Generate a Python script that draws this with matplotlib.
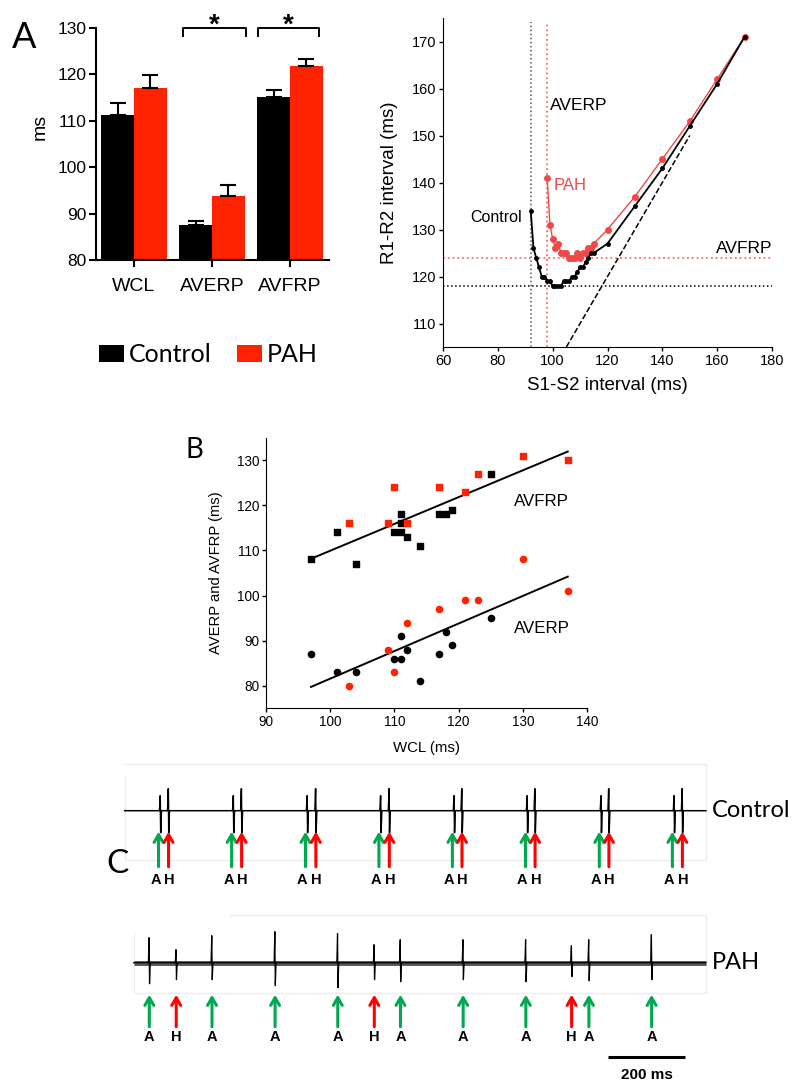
import numpy as np
import matplotlib.pyplot as plt
from matplotlib.patches import Patch

plt.rcParams['font.family'] = ['Liberation Sans', 'DejaVu Sans']

RED = '#ff2200'
RED_LIGHT = '#f04848'
GREEN = '#00a84f'

# --- panel A: bar chart ---
groups = ['WCL', 'AVERP', 'AVFRP']
ctrl_mean = [111.3, 87.5, 115.2]
ctrl_sem = [2.5, 1.0, 1.4]
pah_mean = [117.1, 93.9, 121.9]
pah_sem = [2.8, 2.3, 1.5]

# --- panel A: restitution curves ---
ctrl_s1s2 = [92, 93, 94, 95, 96, 97, 98, 99, 100, 101, 102, 103, 104, 105, 106,
             107, 108, 109, 110, 111, 112, 113, 114, 115, 120, 130, 140, 150, 160, 170]
ctrl_r1r2 = [134, 126, 124, 122, 120, 120, 119, 119, 118, 118, 118, 118, 119, 119, 119,
             120, 120, 121, 122, 122, 123, 124, 125, 125, 127, 135, 143, 152, 161, 171]
pah_s1s2 = [98, 99, 100, 101, 102, 103, 104, 105, 106, 107, 108, 109, 110, 111, 112,
            113, 114, 115, 120, 130, 140, 150, 160, 170]
pah_r1r2 = [141, 131, 128, 126, 127, 125, 125, 125, 124, 124, 124, 125, 124, 125, 125,
            126, 126, 127, 130, 137, 145, 153, 162, 171]
averp_ctrl_ex, averp_pah_ex = 92, 98
avfrp_ctrl_ex, avfrp_pah_ex = 118, 124
identity_range = [105, 150]

# --- panel B: scatter ---
wcl_ctrl_frp = [97, 101, 104, 110, 111, 111, 111, 112, 114, 117, 118, 119, 125]
avfrp_ctrl = [108, 114, 107, 114, 114, 118, 116, 113, 111, 118, 118, 119, 127]
wcl_ctrl_erp = [97, 101, 104, 110, 111, 111, 112, 114, 117, 118, 119, 125]
averp_ctrl = [87, 83, 83, 86, 86, 91, 88, 81, 87, 92, 89, 95]
wcl_pah = [103, 109, 110, 112, 117, 121, 123, 130, 137]
avfrp_pah = [116, 116, 124, 116, 124, 123, 127, 131, 130]
averp_pah = [80, 88, 83, 94, 97, 99, 99, 108, 101]
fit_range = [97, 137]

# --- panel C: electrogram spikes (ms, amplitude in arbitrary units) ---
ctrl_a_ms = [93, 283, 475, 666, 857, 1047, 1239, 1429]
ctrl_h_ms = [114, 304, 497, 688, 877, 1067, 1259, 1450]
ctrl_a_amp = (15, 22)
ctrl_h_amp = (22, 22)
ctrl_span = (0, 1511)
pah_a_ms = [64, 227, 391, 554, 717, 880, 1043, 1207, 1370]
pah_a_up = [25, 27, 31, 29, 23, 23, 23, 23, 28]
pah_a_down = [21, 17, 23, 25, 19, 17, 19, 18, 17]
pah_h_ms = [134, 649, 1162]
pah_h_up = [13, 18, 17]
pah_h_down = [17, 17, 14]
pah_span = (23, 1511)
scalebar_ms = 200


def fig_box(left, top, right, bottom):
    return [left / 800, 1 - bottom / 1088, (right - left) / 800, (bottom - top) / 1088]


fig = plt.figure(figsize=(8, 10.88), dpi=100)

# ================= A: bars =================
ax = fig.add_axes(fig_box(96, 28, 329, 260))
x = np.arange(len(groups))
w = 0.42
ax.bar(x - w / 2, ctrl_mean, w, bottom=0, color='black')
ax.bar(x + w / 2, pah_mean, w, bottom=0, color=RED)
ax.errorbar(x - w / 2, ctrl_mean, yerr=[np.zeros(3), ctrl_sem], fmt='none',
            ecolor='black', elinewidth=1.5, capsize=5.5, capthick=1.5)
ax.errorbar(x + w / 2, pah_mean, yerr=[np.zeros(3), pah_sem], fmt='none',
            ecolor='black', elinewidth=1.5, capsize=5.5, capthick=1.5)
ax.set_ylim(80, 130)
ax.set_xlim(-0.487, 2.5)
ax.set_yticks(range(80, 131, 10))
ax.set_xticks(x)
ax.set_xticklabels(groups, fontsize=14)
ax.tick_params(axis='y', labelsize=12.5, length=5, width=1.5, pad=1.5)
ax.tick_params(axis='x', length=5, width=1.5, pad=8)
for s in ['top', 'right']:
    ax.spines[s].set_visible(False)
for s in ['left', 'bottom']:
    ax.spines[s].set_linewidth(1.5)
ax.set_ylabel('ms', fontsize=14)
ax.yaxis.set_label_coords(-0.205, 0.573)
for x0, x1 in [(0.628, 1.436), (1.59, 2.37)]:
    ax.plot([x0, x0, x1, x1], [128.2, 130, 130, 128.2], color='black', lw=1.4, clip_on=False)
    ax.text((x0 + x1) / 2, 129.0, '*', ha='center', va='baseline', fontsize=20,
            fontweight='bold', clip_on=False)

fig.text(12 / 800, 1 - 48 / 1088, 'A', fontsize=26, family='Lato', va='baseline')

handles = [Patch(facecolor='black', edgecolor='none', label='Control'),
           Patch(facecolor=RED, edgecolor='none', label='PAH')]
fig.legend(handles=handles, loc='center left', bbox_to_anchor=(99 / 800, 1 - 355 / 1088),
           ncol=2, frameon=False, prop={'family': 'Lato', 'size': 18},
           handlelength=1.0, handleheight=0.65, handletextpad=0.2,
           columnspacing=1.0, borderpad=0, borderaxespad=0)

# ================= A: restitution =================
ax2 = fig.add_axes(fig_box(443, 18, 772, 347))
ax2.set_xlim(60, 180)
ax2.set_ylim(105, 175)
ax2.axvline(averp_ctrl_ex, ymax=0.989, color='#555555', ls=':', lw=1.1)
ax2.axvline(averp_pah_ex, ymax=0.989, color='#ff6a6a', ls=':', lw=1.3)
ax2.axhline(avfrp_ctrl_ex, color='black', ls=':', lw=1.1)
ax2.axhline(avfrp_pah_ex, color='#ff6a6a', ls=':', lw=1.3)
ax2.plot(identity_range, identity_range, color='black', ls='--', lw=1.1)
ax2.plot(pah_s1s2, pah_r1r2, color=RED_LIGHT, lw=1.0, marker='o', ms=4)
ax2.plot(ctrl_s1s2, ctrl_r1r2, color='black', lw=1.3, marker='o', ms=2.5)
ax2.set_xticks(range(60, 181, 20))
ax2.set_yticks(range(110, 171, 10))
ax2.tick_params(labelsize=10.5, length=3, width=1, pad=2)
for s in ['top', 'right']:
    ax2.spines[s].set_visible(False)
ax2.set_xlabel('S1-S2 interval (ms)', fontsize=13.5, va='top')
ax2.xaxis.set_label_coords(0.5, -0.091)
ax2.set_ylabel('R1-R2 interval (ms)', fontsize=13.5)
ax2.yaxis.set_label_coords(-0.137, 0.5)
ax2.text(88.7, 132.5, 'Control', ha='right', va='center', fontsize=11.5)
ax2.text(99, 156.3, 'AVERP', ha='left', va='center', fontsize=12.5)
ax2.text(100.5, 139.3, 'PAH', ha='left', va='center', fontsize=12, color=RED_LIGHT)
ax2.text(180, 126, 'AVFRP', ha='right', va='center', fontsize=12.5)

# ================= B =================
ax3 = fig.add_axes(fig_box(266, 437.7, 587, 708.3))
ax3.set_xlim(90, 140)
ax3.set_ylim(75, 135)
fx = np.array(fit_range)
k1 = np.polyfit(wcl_ctrl_frp + wcl_pah, avfrp_ctrl + avfrp_pah, 1)
k2 = np.polyfit(wcl_ctrl_erp + wcl_pah, averp_ctrl + averp_pah, 1)
ax3.plot(fx, np.polyval(k1, fx), color='black', lw=1.4)
ax3.plot(fx, np.polyval(k2, fx), color='black', lw=1.4)
ax3.scatter(wcl_ctrl_frp, avfrp_ctrl, marker='s', s=20, color='black', zorder=3)
ax3.scatter(wcl_pah, avfrp_pah, marker='s', s=20, color=RED, zorder=3)
ax3.scatter(wcl_ctrl_erp, averp_ctrl, marker='o', s=20, color='black', zorder=3)
ax3.scatter(wcl_pah, averp_pah, marker='o', s=20, color=RED, zorder=3)
ax3.set_xticks(range(90, 141, 10))
ax3.set_yticks(range(80, 131, 10))
ax3.tick_params(labelsize=9.75, length=3, width=1, pad=2)
for s in ['top', 'right']:
    ax3.spines[s].set_visible(False)
ax3.set_xlabel('WCL (ms)', fontsize=10.8, va='top')
ax3.xaxis.set_label_coords(0.5, -0.121)
ax3.set_ylabel('AVERP and AVFRP (ms)', fontsize=10.6)
ax3.yaxis.set_label_coords(-0.134, 0.5)
ax3.text(128.7, 120.9, 'AVFRP', ha='left', va='center', fontsize=12.2)
ax3.text(128.7, 92.7, 'AVERP', ha='left', va='center', fontsize=12.2)
fig.text(186 / 800, 1 - 458 / 1088, 'B', fontsize=20, family='Lato', va='baseline')

# ================= C =================
def build_trace(span, spikes):
    xs, ys = [span[0]], [0]
    for t, up, dn in sorted(spikes):
        xs += [t - 2.5, t - 0.6, t + 0.6, t + 2.5]
        ys += [0, up, -dn, 0]
    xs.append(span[1])
    ys.append(0)
    return xs, ys


arrow_kw = dict(arrowstyle='->,head_length=0.55,head_width=0.32', lw=2.2,
                shrinkA=0, shrinkB=0)
XLIM_C = (-64.2, 1755.8)

axc1 = fig.add_axes(fig_box(100, 755, 800, 890))
axc1.set_xlim(*XLIM_C)
axc1.set_ylim(-79.3, 55.7)
axc1.axis('off')
axc1.plot([0, 0, 1511, 1511, 0], [35, -49.3, -49.3, 46.7, 46.7], color='#ececec', lw=1)
spk = [(t, *ctrl_a_amp) for t in ctrl_a_ms] + [(t, *ctrl_h_amp) for t in ctrl_h_ms]
tx, ty = build_trace(ctrl_span, spk)
axc1.plot(tx, ty, color='black', lw=1.1)
for ta, th in zip(ctrl_a_ms, ctrl_h_ms):
    axc1.annotate('', xy=(ta - 5, -21), xytext=(ta - 5, -56),
                  arrowprops=dict(color=GREEN, **arrow_kw))
    axc1.annotate('', xy=(th, -21), xytext=(th, -56),
                  arrowprops=dict(color='#ff0000', **arrow_kw))
    axc1.text(ta - 13, -69, 'A', ha='center', va='center', fontsize=10.5, fontweight='bold')
    axc1.text(th + 2, -69, 'H', ha='center', va='center', fontsize=10.5, fontweight='bold')
axc1.text(1527, 0, 'Control', ha='left', va='center', fontsize=17, family='Lato')

axc2 = fig.add_axes(fig_box(100, 905, 800, 1088))
axc2.set_xlim(*XLIM_C)
axc2.set_ylim(-125.3, 57.7)
axc2.axis('off')
axc2.plot([23, 23, 1511, 1511, 274], [29.7, -30, -30, 47.7, 47.7], color='#ececec', lw=1)
axc2.plot(pah_span, [0, 0], color='#555555', lw=3.5, solid_capstyle='butt')
spk = list(zip(pah_a_ms, pah_a_up, pah_a_down)) + list(zip(pah_h_ms, pah_h_up, pah_h_down))
tx, ty = build_trace(pah_span, spk)
axc2.plot(tx, ty, color='black', lw=0.9)
for t in pah_a_ms:
    axc2.annotate('', xy=(t, -32), xytext=(t, -64), arrowprops=dict(color=GREEN, **arrow_kw))
    axc2.text(t, -74, 'A', ha='center', va='center', fontsize=10.5, fontweight='bold')
for t in pah_h_ms:
    axc2.annotate('', xy=(t, -32), xytext=(t, -64), arrowprops=dict(color='#ff0000', **arrow_kw))
    axc2.text(t, -74, 'H', ha='center', va='center', fontsize=10.5, fontweight='bold')
axc2.text(1527, 0, 'PAH', ha='left', va='center', fontsize=17, family='Lato')
bar_x0 = 1257
axc2.plot([bar_x0, bar_x0 + scalebar_ms], [-94.3, -94.3], color='black', lw=2.2,
          solid_capstyle='butt')
axc2.text(bar_x0 + scalebar_ms / 2, -112, '200 ms', ha='center', va='center',
          fontsize=11, fontweight='bold')
fig.text(106 / 800, 1 - 873 / 1088, 'C', fontsize=24, family='Lato', va='baseline')

fig.savefig('out.png', dpi=100)
